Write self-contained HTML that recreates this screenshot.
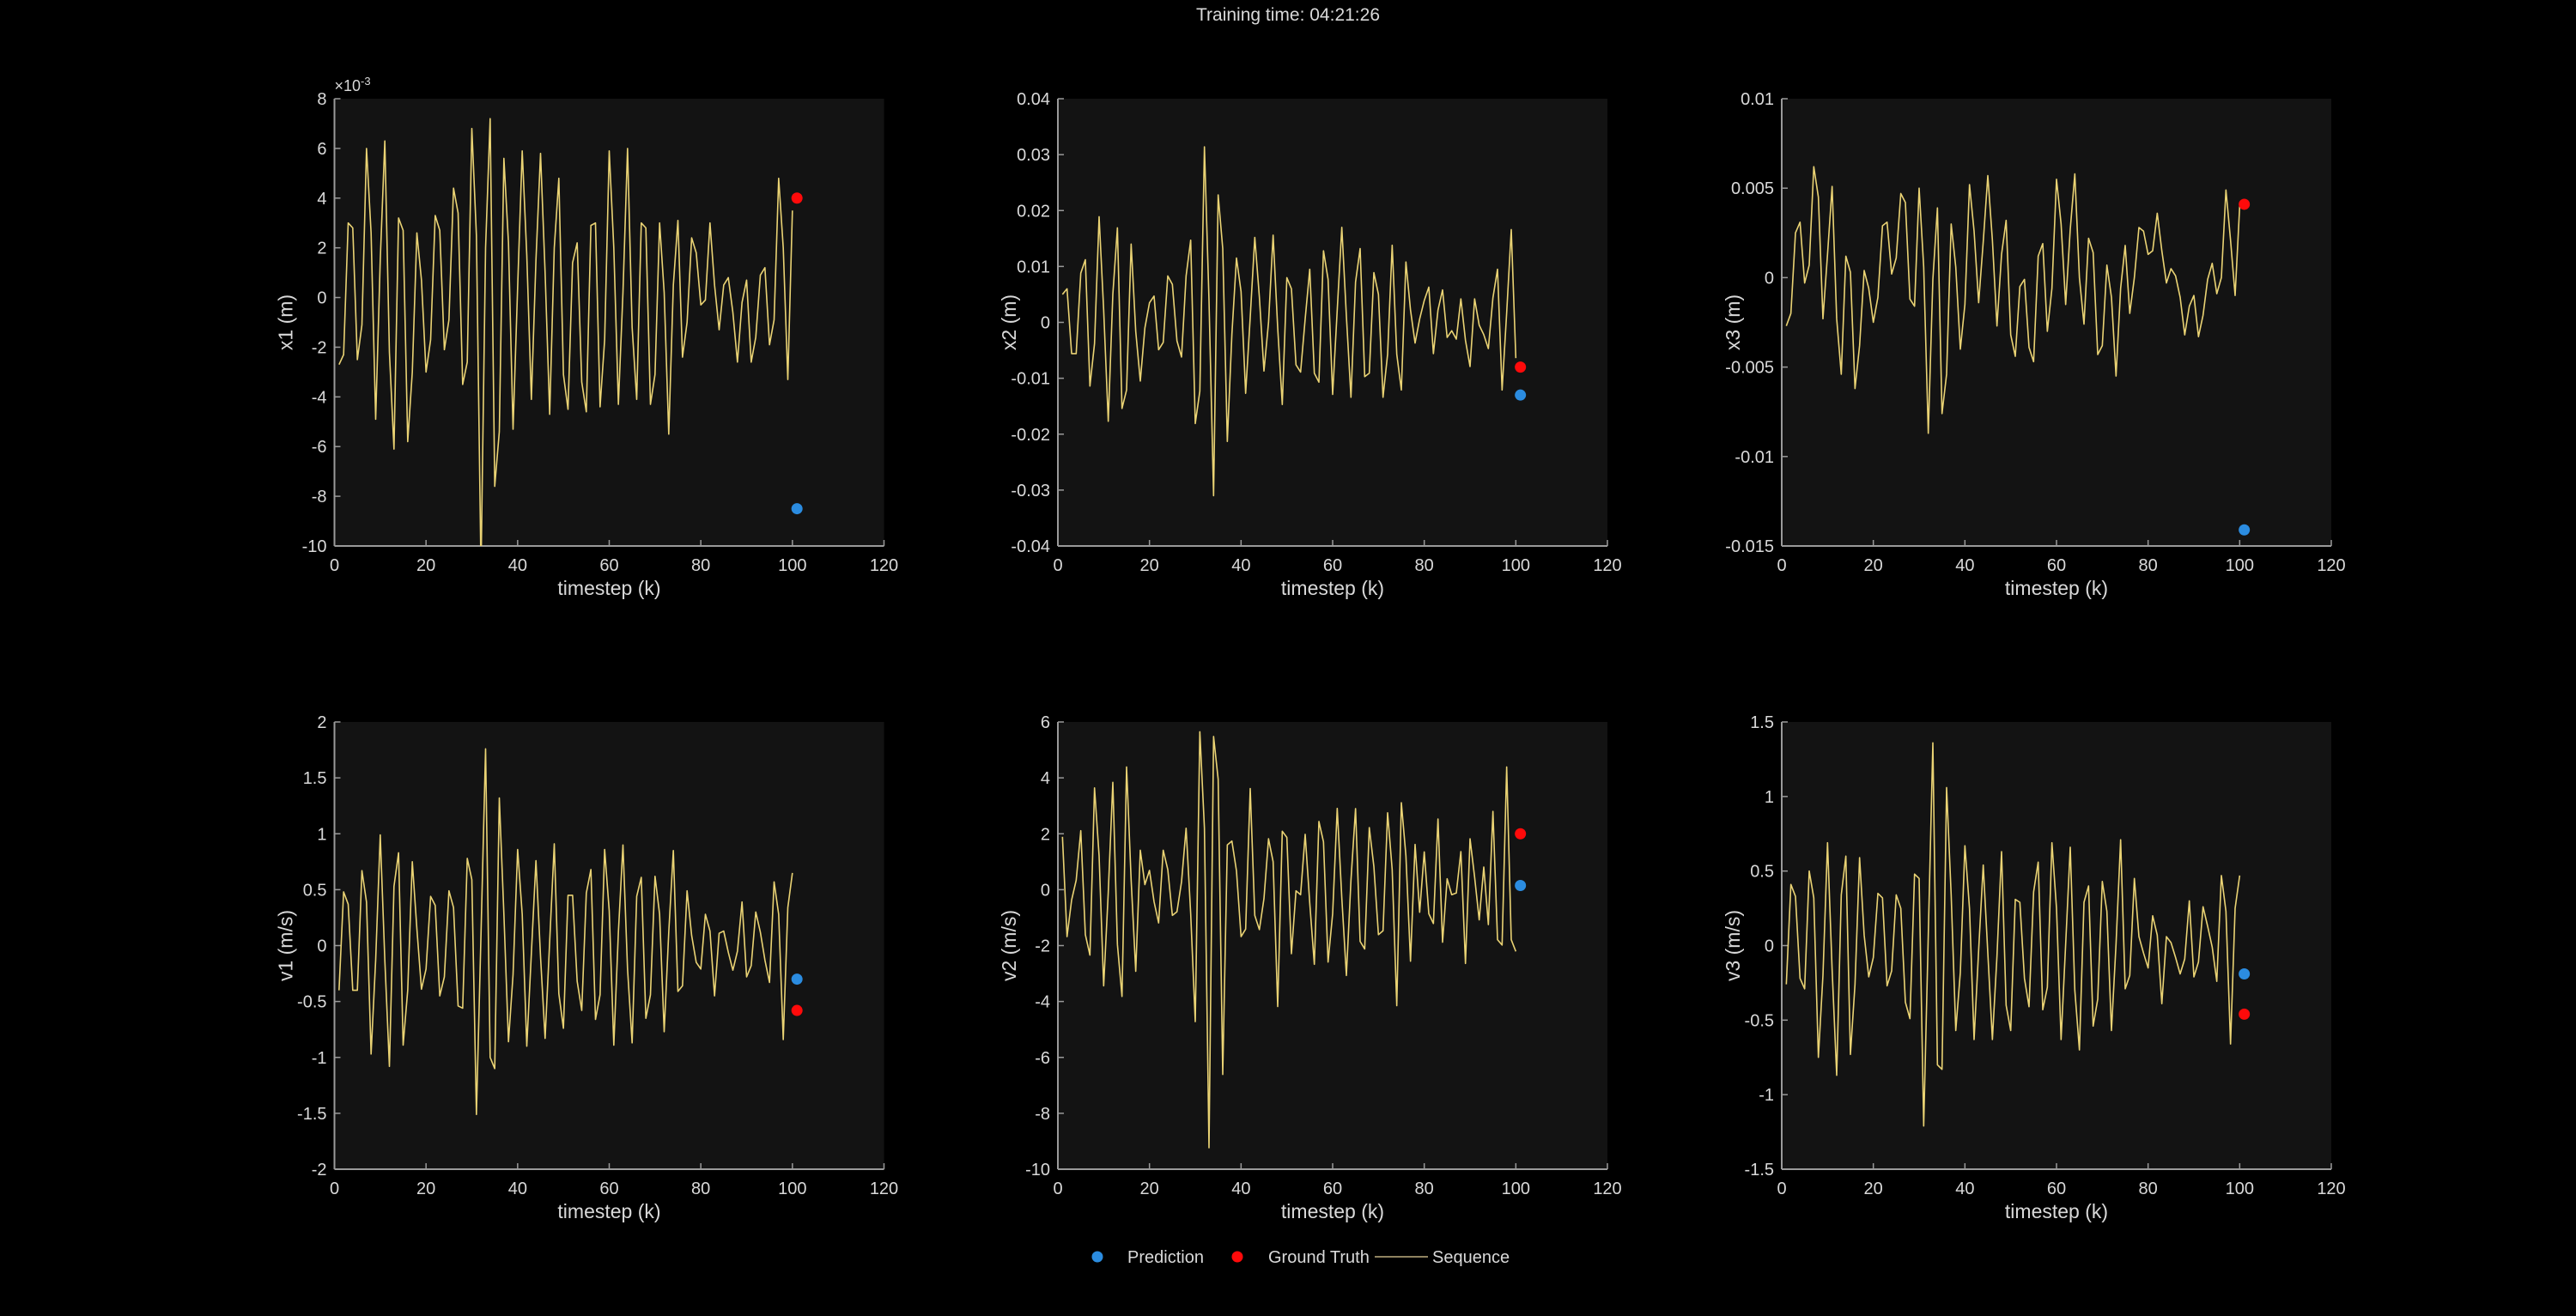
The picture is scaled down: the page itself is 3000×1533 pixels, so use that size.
<!DOCTYPE html>
<html><head><meta charset="utf-8"><style>
html,body{margin:0;padding:0;background:#000;}
svg{display:block;}
text{font-family:"Liberation Sans",Arial,sans-serif;fill:#d9d9d9;}
</style></head><body>
<svg id="fig" width="3000" height="1533" viewBox="0 0 3000 1533" xmlns="http://www.w3.org/2000/svg">
<rect width="3000" height="1533" fill="#000"/>
<text x="1500" y="24" font-size="21" text-anchor="middle">Training time: 04:21:26</text>
<g>
  <circle cx="1278" cy="1464" r="6.5" fill="#2b8ce0"/>
  <text x="1313" y="1471" font-size="20">Prediction</text>
  <circle cx="1441" cy="1464" r="6.5" fill="#ff0a0a"/>
  <text x="1477" y="1471" font-size="20">Ground Truth</text>
  <line x1="1601" y1="1464" x2="1663" y2="1464" stroke="#8f8360" stroke-width="2"/>
  <text x="1668" y="1471" font-size="20">Sequence</text>
</g>
</svg>
<script>
const xTicks = [0,20,40,60,80,100,120];
const x1Seq = [-2.7,-2.3,3.0,2.8,-2.5,-1.1,6.0,2.6,-4.9,1.5,6.3,-2.2,-6.1,3.2,2.7,-5.8,-3.0,2.6,0.7,-3.0,-1.7,3.3,2.7,-2.1,-0.9,4.4,3.4,-3.5,-2.6,6.8,2.5,-11,2.0,7.2,-7.6,-5.4,5.6,2.2,-5.3,0.4,5.9,1.7,-4.1,1.5,5.8,1.0,-4.7,2.0,4.8,-3.1,-4.5,1.4,2.2,-3.4,-4.6,2.9,3.0,-4.4,-1.7,5.9,2.0,-4.3,0.2,6.0,-1.2,-4.1,3.0,2.8,-4.3,-3.1,3.0,0.2,-5.5,0.5,3.1,-2.4,-1.0,2.4,1.8,-0.3,-0.1,3.0,0.5,-1.3,0.5,0.8,-0.6,-2.6,-0.2,0.7,-2.6,-1.6,0.9,1.2,-1.9,-0.9,4.8,2.0,-3.3,3.5];
const x2Seq = [0.005,0.006,-0.0056,-0.0056,0.0088,0.0112,-0.0114,-0.0038,0.0189,0.0022,-0.0177,0.005,0.0169,-0.0154,-0.0121,0.014,-0.0016,-0.0105,-0.001,0.0035,0.0047,-0.0049,-0.0036,0.0083,0.0068,-0.0033,-0.0062,0.0083,0.0147,-0.0181,-0.0123,0.0314,0.0039,-0.031,0.0228,0.0132,-0.0213,-0.0021,0.0115,0.0055,-0.0127,0.0009,0.0152,0.0045,-0.0087,0,0.0156,-0.001,-0.0147,0.008,0.006,-0.0076,-0.0089,0.0006,0.0095,-0.0091,-0.0107,0.0128,0.0077,-0.0129,0.0022,0.017,0.0011,-0.0134,0.0072,0.0132,-0.0097,-0.0091,0.0089,0.005,-0.0134,-0.0057,0.0138,-0.0057,-0.0121,0.0108,0.0022,-0.0037,0.0006,0.0039,0.0063,-0.0056,0.0022,0.0058,-0.0027,-0.0015,-0.003,0.0042,-0.0032,-0.0079,0.0042,-0.0005,-0.0022,-0.0047,0.0044,0.0095,-0.0121,0.0017,0.0166,-0.0064];
const x3Seq = [-0.0027,-0.002,0.0025,0.0031,-0.0003,0.0007,0.0062,0.0045,-0.0023,0.0013,0.0051,-0.0023,-0.0054,0.0012,0.0003,-0.0062,-0.0038,0.0004,-0.0006,-0.0025,-0.0011,0.0029,0.0031,0.0002,0.0011,0.0047,0.0042,-0.0012,-0.0016,0.005,0.0006,-0.0087,-0.0001,0.0039,-0.0076,-0.0054,0.003,0.0006,-0.004,-0.0015,0.0052,0.0026,-0.0014,0.002,0.0057,0.0021,-0.0027,0.0013,0.0032,-0.0032,-0.0044,-0.0005,-0.0001,-0.0039,-0.0047,0.0012,0.0019,-0.003,-0.0006,0.0055,0.003,-0.0015,0.0027,0.0058,0,-0.0026,0.0022,0.0014,-0.0043,-0.0038,0.0007,-0.0011,-0.0055,-0.0006,0.0018,-0.002,0,0.0028,0.0026,0.0013,0.0015,0.0036,0.0015,-0.0003,0.0005,0.0001,-0.0011,-0.0032,-0.0016,-0.001,-0.0033,-0.0021,-0.0001,0.0008,-0.0009,0,0.0049,0.0021,-0.001,0.004];
const v1Seq = [-0.4,0.48,0.37,-0.4,-0.4,0.67,0.39,-0.97,-0.13,0.99,-0.13,-1.08,0.53,0.83,-0.89,-0.4,0.75,0.15,-0.39,-0.21,0.44,0.36,-0.45,-0.28,0.49,0.34,-0.54,-0.56,0.78,0.59,-1.51,0.1,1.76,-1.0,-1.1,1.32,0.28,-0.86,-0.26,0.86,0.28,-0.9,-0.07,0.76,-0.1,-0.83,0.04,0.91,-0.43,-0.74,0.45,0.45,-0.32,-0.58,0.47,0.68,-0.66,-0.44,0.86,0.31,-0.89,0.12,0.9,-0.21,-0.87,0.44,0.61,-0.65,-0.44,0.62,0.28,-0.77,0.12,0.85,-0.41,-0.36,0.49,0.09,-0.15,-0.21,0.28,0.13,-0.45,0.11,0.13,-0.06,-0.22,-0.05,0.39,-0.28,-0.18,0.3,0.12,-0.13,-0.33,0.57,0.28,-0.84,0.34,0.65];
const v2Seq = [1.89,-1.68,-0.37,0.34,2.11,-1.61,-2.34,3.64,1.21,-3.44,-0.1,3.84,-1.96,-3.82,4.39,0.34,-2.92,1.41,0.18,0.69,-0.43,-1.19,1.41,0.72,-0.92,-0.79,0.28,2.2,-0.86,-4.72,5.65,2.2,-9.23,5.48,3.95,-6.61,1.6,1.74,0.67,-1.68,-1.41,3.62,-0.92,-1.43,-0.32,1.82,1.0,-4.18,2.09,1.87,-2.29,-0.04,-0.18,1.98,-0.48,-2.67,2.44,1.71,-2.59,-0.86,2.91,-0.3,-3.07,0.34,2.9,-1.85,-2.12,2.22,0.83,-1.61,-1.47,2.75,0.72,-4.15,3.11,1.21,-2.56,1.62,-0.81,1.35,-0.86,-1.21,2.53,-1.88,0.39,-0.18,-0.12,1.36,-2.64,1.82,0.45,-1.08,0.81,-1.25,2.8,-1.79,-1.98,4.39,-1.79,-2.21];
const v3Seq = [-0.26,0.41,0.33,-0.22,-0.29,0.5,0.32,-0.75,-0.2,0.69,-0.16,-0.87,0.34,0.6,-0.73,-0.26,0.59,0.07,-0.21,-0.08,0.35,0.32,-0.27,-0.17,0.34,0.25,-0.38,-0.49,0.48,0.45,-1.21,0.07,1.36,-0.8,-0.83,1.06,0.34,-0.57,-0.18,0.67,0.25,-0.63,-0.03,0.54,-0.05,-0.63,-0.07,0.63,-0.4,-0.57,0.31,0.29,-0.22,-0.41,0.36,0.56,-0.43,-0.28,0.69,0.25,-0.63,0.01,0.66,-0.3,-0.7,0.29,0.4,-0.54,-0.36,0.43,0.23,-0.57,0.01,0.71,-0.29,-0.2,0.45,0.06,-0.05,-0.15,0.2,0.07,-0.39,0.06,0.02,-0.08,-0.19,-0.09,0.3,-0.21,-0.11,0.26,0.13,-0.01,-0.24,0.47,0.23,-0.66,0.25,0.47];
const predictions = [-8.5, -0.013, -0.0141, -0.3, 0.15, -0.19];
const groundTruths = [4.0, -0.008, 0.0041, -0.58, 2.0, -0.46];
const seriesList = [x1Seq, x2Seq, x3Seq, v1Seq, v2Seq, v3Seq];
const yLabels = ["x1 (m)","x2 (m)","x3 (m)","v1 (m/s)","v2 (m/s)","v3 (m/s)"];
const yMins = [-10,-0.04,-0.015,-2,-10,-1.5];
const yMaxs = [8,0.04,0.01,2,6,1.5];
const ySteps = [2,0.01,0.005,0.5,2,0.5];

const NS = "http://www.w3.org/2000/svg";
const svg = document.getElementById('fig');
const axLeft = [389.5,1232,2075];
const axTop = [115,841];
const axW = 640, axH = 521;
function mk(tag, attrs, parent){const e=document.createElementNS(NS,tag);for(const k in attrs)e.setAttribute(k,attrs[k]);(parent||svg).appendChild(e);return e;}
function fmt(v){let s=(+v.toFixed(4)).toString();return s;}

for(let p=0;p<6;p++){
  const L=axLeft[p%3], T=axTop[Math.floor(p/3)];
  const xs=k=>L+(k-0)/(120-0)*axW;
  const ys=v=>T+axH-(v-yMins[p])/(yMaxs[p]-yMins[p])*axH;
  const g=mk('g',{});
  
  
  const bg=mk('rect',{x:L,y:T,width:axW,height:axH,fill:'#131313'},g);
  
  
  const cp=mk('clipPath',{id:'clip'+p},g);
  mk('rect',{x:L,y:T,width:axW,height:axH},cp);
  // x ticks
  xTicks.forEach(t=>{
    const x=xs(t);
    mk('line',{x1:x,y1:T+axH,x2:x,y2:T+axH-7,stroke:'#9a9a9a','stroke-width':1.5},g);
    const tl=mk('text',{x:x,y:T+axH+29,'font-size':20,'text-anchor':'middle'},g);
    tl.textContent=t;
    
    
  });
  // y ticks
  const n=Math.round((yMaxs[p]-yMins[p])/ySteps[p]);
  for(let i=0;i<=n;i++){
    const v=yMins[p]+i*ySteps[p];
    const y=ys(v);
    mk('line',{x1:L,y1:y,x2:L+7,y2:y,stroke:'#9a9a9a','stroke-width':1.5},g);
    const tl=mk('text',{x:L-9,y:y+7,'font-size':20,'text-anchor':'end'},g);
    tl.textContent=fmt(v);
    
    
  }
  mk('line',{x1:L,y1:T,x2:L,y2:T+axH,stroke:'#9a9a9a','stroke-width':2},g);
  mk('line',{x1:L,y1:T+axH,x2:L+axW,y2:T+axH,stroke:'#9a9a9a','stroke-width':2},g);
  if(p===0){
    const ex=mk('text',{x:L,y:T-9,'font-size':18},g);
    ex.innerHTML='×10<tspan dy="-7" font-size="13">-3</tspan>';
    
    
  }
  const xl=mk('text',{x:L+axW/2,y:T+axH+57,'font-size':23,'text-anchor':'middle'},g);
  xl.textContent='timestep (k)';
  
  
  const cy=T+axH/2, cx=L-49;
  const yl=mk('text',{x:cx,y:cy,'font-size':23,'text-anchor':'middle',transform:`rotate(-90 ${cx} ${cy})`},g);
  yl.textContent=yLabels[p];
  
  
  // sequence
  const d=seriesList[p].map((v,i)=>(i?'L':'M')+xs(i+1).toFixed(2)+','+ys(v).toFixed(2)).join(' ');
  const path=mk('path',{d:d,fill:'none',stroke:'#ead374','stroke-width':1.6,'clip-path':`url(#clip${p})`,'stroke-linejoin':'round'},g);
  
  
  const pr=mk('circle',{cx:xs(101),cy:ys(predictions[p]),r:6.5,fill:'#2b8ce0'},g);
  
  
  const gt=mk('circle',{cx:xs(101),cy:ys(groundTruths[p]),r:6.5,fill:'#ff0a0a'},g);
  
  
}
</script>
</body></html>
